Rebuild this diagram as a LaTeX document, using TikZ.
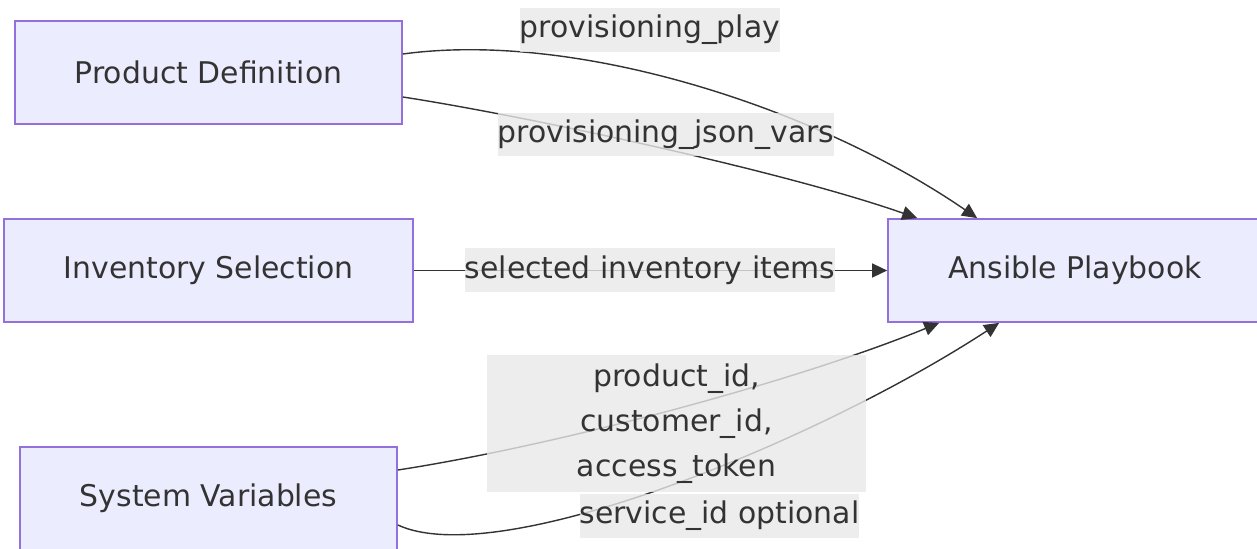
\documentclass[tikz,border=0pt]{standalone}
\usepackage{fontspec}
\setmainfont{DejaVu Sans}
\usetikzlibrary{arrows.meta, positioning}

\definecolor{boxfill}{HTML}{ECECFF}
\definecolor{boxline}{HTML}{9370DB}
\definecolor{ink}{HTML}{333333}
\definecolor{labelbg}{HTML}{E8E8E8}

\tikzset{
  block/.style={draw=boxline, fill=boxfill, line width=1pt, text=ink,
    minimum height=2.06cm, inner sep=0pt},
  edgelabel/.style={fill=labelbg, fill opacity=0.8, text opacity=1, text=ink,
    inner sep=0pt, minimum height=0.88cm, align=center},
  flow/.style={draw=ink, line width=0.8pt, -{Triangle[length=0.3cm, width=0.28cm]}},
}

\begin{document}
\begin{tikzpicture}[x=0.02cm, y=-0.02cm, font=\fontsize{17pt}{25.6pt}\selectfont]
  \useasboundingbox (0,0) rectangle (1257,548);
  % boxes
  \node[block, minimum width=7.74cm] (prod) at (208.5,72.5) {Product Definition};
  \node[block, minimum width=8.18cm] (inv) at (208.5,270.5) {Inventory Selection};
  \node[block, minimum width=7.54cm] (sysvars) at (208.5,498.5) {System Variables};
  \node[block, minimum width=7.48cm] (play) at (1075,270.5) {Ansible Playbook};

  % connectors
  \draw[flow] ([yshift=0.37cm]prod.east) .. controls (580,30) and (820,110) .. ([xshift=1.8cm]play.north west);
  \draw[flow] ([yshift=-0.49cm]prod.east) .. controls (520,115) and (780,170) .. ([xshift=0.6cm]play.north west);
  \draw[flow] (inv) -- (play);
  \draw[flow] ([yshift=0.57cm]sysvars.east) .. controls (560,445) and (800,380) .. ([xshift=1.04cm]play.south west);
  \draw[flow] ([yshift=-0.53cm]sysvars.east) .. controls (500,572) and (820,440) .. ([xshift=2.24cm]play.south west);

  % labels
  \node[edgelabel] (lplay) at (650,30) {provisioning\_play};
  \node[edgelabel] (ljson) at (666,134.5) {provisioning\_json\_vars};
  \node[edgelabel] (linv) at (650,270) {selected inventory items};
  \node[edgelabel, minimum width=7.58cm, minimum height=2.74cm] (lsys) at (676.5,423.5)
    {product\_id,\\customer\_id,\\access\_token};
  \node[edgelabel] (lserv) at (719.5,515.5) {service\_id optional};
\end{tikzpicture}
\end{document}
